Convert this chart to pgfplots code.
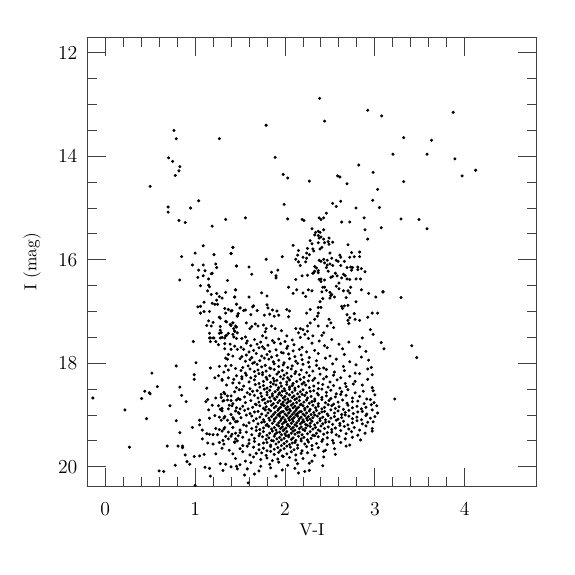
\documentclass[border=0pt]{standalone}
\usepackage{pgfplots}
\pgfplotsset{compat=1.18}
\begin{document}
\begin{tikzpicture}
\begin{axis}[
  scale only axis, width=272.7pt, height=272.5pt,
  xmin=-0.2, xmax=4.8, ymin=11.7, ymax=20.38, y dir=reverse,
  xtick={0,1,2,3,4}, minor x tick num=4,
  ytick={12,14,16,18,20}, minor y tick num=3,
  tick align=inside, xtick pos=both, ytick pos=both,
  xticklabel pos=lower, yticklabel pos=left,
  major tick length=11.5pt, minor tick length=5.7pt,
  axis line style={black!75, line width=0.6pt},
  every tick/.style={black!75, line width=0.6pt},
  tick label style={font=\fontsize{12}{14}\selectfont},
  xticklabel style={yshift=-6.5pt},
  yticklabel style={xshift=-2.4pt},
  label style={font=\fontsize{10.5}{12}\selectfont},
  xlabel={V-I}, ylabel={I (mag)},
  xlabel style={at={(axis description cs:0.5,-0.096)}, anchor=center},
  ylabel style={at={(axis description cs:-0.1228,0.5)}, anchor=center},
  clip=true,
]
\pgfplotsset{cmd/.style={only marks, mark=*, mark size=0.72pt, black, mark options={draw=black, fill=black}}}
% sparse upper stars
\addplot[cmd] coordinates {
(0.765,13.50)(0.79,13.66)(1.27,13.66)(0.705,14.03)(0.75,14.10)(0.83,14.20)(0.82,14.28)(0.78,14.37)(0.50,14.58)
(2.385,12.88)(2.92,13.11)(3.075,13.22)(2.44,13.32)(1.79,13.40)(1.89,14.02)(1.98,14.35)(2.03,14.42)(2.27,14.48)(2.585,14.38)(2.61,14.40)(2.69,14.53)(2.82,14.17)(2.98,14.31)(3.03,14.64)
(3.87,13.15)(3.32,13.64)(3.63,13.69)(3.20,13.96)(3.58,13.96)(3.89,14.05)(4.12,14.27)(3.97,14.38)(3.32,14.49)
(3.29,15.21)(3.49,15.22)(3.58,15.40)(3.09,16.62)(3.29,16.73)
(3.07,17.60)(3.10,17.72)(3.41,17.66)(3.465,17.89)(3.22,18.69)
};
% blue side, upper left
\addplot[cmd] coordinates {
(0.70,14.98)(0.70,15.08)(0.95,15.00)(1.04,14.86)(0.82,15.24)(0.89,15.28)(1.34,15.22)(1.19,15.35)
(1.09,15.73)(1.42,15.76)(1.00,15.87)(1.21,15.90)(1.40,15.88)(0.85,15.94)(0.97,16.10)(1.09,16.10)(1.23,16.08)(1.46,16.12)
(1.24,16.15)(1.04,16.20)(1.11,16.21)(1.19,16.26)(1.18,16.27)(1.09,16.31)(1.03,16.34)(1.15,16.37)(0.83,16.39)(1.36,16.40)
(1.06,16.50)(1.15,16.49)(1.16,16.52)(1.45,16.58)(1.14,16.60)(1.24,16.65)(1.18,16.67)(1.34,16.63)(1.27,16.71)(1.30,16.74)
(1.44,16.72)(1.24,16.78)(1.22,16.86)(1.19,16.84)(1.25,16.86)(1.10,16.82)(1.46,16.86)(1.03,16.91)(1.06,16.90)(1.33,16.94)
(1.37,16.96)(1.41,16.98)(1.50,16.93)(1.10,17.00)(1.16,17.00)(1.06,17.03)(1.34,17.03)(1.48,17.04)(1.27,17.11)(1.28,17.13)
(1.47,17.09)(1.34,17.19)(1.35,17.20)(1.15,17.18)(1.20,17.21)(1.42,17.22)(1.39,17.25)(1.40,17.27)(1.13,17.27)(1.18,17.28)
(1.28,17.29)(1.46,17.30)(1.44,17.38)(1.28,17.36)(1.16,17.42)(1.27,17.42)(1.35,17.46)(1.17,17.51)(1.21,17.51)(1.30,17.50)
(1.33,17.51)(1.43,17.49)
};
% giant branch and clump region
\addplot[cmd] coordinates {
(2.975,14.85)(2.53,14.91)(2.62,14.87)(2.57,14.97)(2.79,15.00)(3.05,14.99)(1.99,14.93)(2.46,15.10)(1.56,15.19)(2.03,15.21)
(2.19,15.22)(2.21,15.24)(2.38,15.19)(2.40,15.22)(2.43,15.19)(2.63,15.27)(2.72,15.27)(2.88,15.19)(3.07,15.38)(2.89,15.42)
(2.30,15.40)(2.34,15.47)(2.37,15.45)(2.39,15.47)(2.43,15.42)(2.33,15.52)(2.37,15.53)(2.92,15.60)(2.38,15.58)(2.40,15.56)
(2.43,15.60)(2.49,15.58)(2.28,15.63)(2.30,15.69)(2.37,15.67)(2.44,15.67)(2.48,15.65)(2.49,15.70)(2.53,15.66)(2.70,15.71)
(2.09,15.72)(1.42,15.76)(2.31,15.79)(2.32,15.83)(2.25,15.78)(2.39,15.79)(2.41,15.76)(2.15,15.82)(2.74,15.86)(2.83,15.85)
(2.50,15.87)(2.24,15.87)(1.40,15.88)(2.27,15.90)(2.14,15.91)(2.61,15.91)(1.97,15.94)(2.20,15.95)(2.72,15.95)(2.77,15.94)
(2.83,15.94)(2.62,15.95)(2.24,15.97)(2.52,15.97)(2.12,15.99)(1.79,15.99)(2.38,16.01)(2.40,16.03)(2.43,15.99)(2.47,16.01)
(2.57,16.01)(2.59,16.03)(2.66,16.03)(2.23,16.04)(2.15,16.04)(2.44,16.06)(2.50,16.08)(2.47,16.10)(2.53,16.11)(2.62,16.11)
(1.46,16.12)(1.60,16.14)(2.17,16.11)(2.33,16.13)(2.35,16.16)(2.46,16.15)(2.69,16.15)(2.73,16.14)(2.75,16.15)(2.81,16.14)
(1.92,16.20)(2.37,16.21)(2.74,16.20)(2.81,16.19)(2.85,16.17)(2.33,16.22)(2.48,16.22)(1.85,16.24)(2.32,16.25)(2.37,16.25)
(2.31,16.26)(2.56,16.26)(2.65,16.28)(1.63,16.28)(2.89,16.23)(2.19,16.31)(2.25,16.30)(2.67,16.31)(1.90,16.31)(1.90,16.35)
(2.58,16.31)(2.53,16.32)(2.12,16.38)(2.40,16.37)(2.51,16.34)(2.63,16.35)(2.69,16.37)(2.72,16.38)(2.79,16.37)(2.84,16.37)
(2.44,16.39)(2.38,16.38)(2.40,16.42)(2.60,16.45)(2.57,16.51)(2.04,16.53)(2.42,16.53)(2.44,16.53)(2.60,16.56)(2.73,16.53)
(2.85,16.58)(2.26,16.58)(2.30,16.60)(2.13,16.58)(2.46,16.59)(2.70,16.60)(2.65,16.60)(3.09,16.62)(2.41,16.62)(2.50,16.63)
(2.72,16.64)(2.09,16.65)(2.20,16.64)(2.93,16.65)(2.51,16.69)(2.52,16.67)(2.23,16.71)(2.55,16.72)(3.01,16.72)(2.50,16.74)
(2.68,16.73)(2.42,16.75)(2.39,16.81)(2.79,16.81)(2.70,16.88)(2.66,16.89)(2.63,16.90)(2.64,16.94)(2.37,16.92)(2.40,16.92)
(3.03,17.03)(2.97,17.03)(2.92,17.11)
(1.45,16.58)(1.44,16.72)(1.60,16.72)(1.74,16.64)(1.80,16.70)(1.46,16.86)(1.50,16.93)(1.54,16.98)(1.56,16.97)(1.64,16.91)
(1.65,16.89)(1.69,16.98)(1.80,16.87)(1.81,16.93)(1.86,16.97)(1.91,16.99)(2.02,16.96)(2.05,16.99)(1.40,16.99)(1.47,17.08)
(1.62,17.06)(1.77,17.07)(1.83,17.05)(1.88,17.09)(1.93,17.07)(2.04,17.10)(2.24,17.03)(2.28,16.96)(1.42,17.22)(1.45,17.28)
(1.43,17.33)(1.47,17.41)(1.57,17.22)(1.61,17.33)(1.63,17.29)(1.67,17.24)(1.70,17.28)(1.76,17.26)(1.78,17.39)(1.79,17.33)
(1.75,17.47)(1.85,17.28)(1.89,17.33)(1.96,17.37)(2.12,17.33)(2.17,17.33)(2.20,17.35)(2.25,17.28)(2.28,17.22)(2.33,17.15)
(2.36,17.09)(2.37,17.03)(1.56,17.49)(2.02,17.47)(2.15,17.41)(2.22,17.44)(2.25,17.38)(2.31,17.47)(2.37,17.28)(2.41,17.46)
(2.43,17.41)(2.47,17.28)(2.49,17.15)(2.51,17.22)(2.54,17.31)(2.69,17.06)(2.72,17.12)(2.70,17.17)(2.71,17.23)(2.77,17.04)
(2.78,17.15)(2.83,17.17)(2.86,17.51)(2.95,17.35)(2.98,17.44)
};
% lower left sparse and blue edge
\addplot[cmd] coordinates {
(-0.137,18.67)(0.22,18.90)(0.27,19.62)(0.405,18.68)(0.44,18.54)(0.49,18.57)(0.50,18.59)(0.52,18.19)(0.58,18.45)(0.46,19.07)
(0.60,20.08)(0.65,20.09)(0.72,18.82)(0.69,19.60)(0.78,19.97)(0.79,18.05)(0.83,18.46)(0.85,18.62)(0.90,18.74)(0.79,19.11)
(0.83,19.34)(0.81,19.60)(0.86,19.60)(0.86,19.63)(0.89,19.77)(0.91,19.90)(0.94,19.95)(0.99,19.80)(1.00,20.36)(0.98,17.58)
(1.01,17.99)(0.99,18.22)(0.99,18.31)(0.97,19.24)(1.05,19.10)(1.05,19.19)(1.08,19.29)(1.13,18.48)(1.12,18.74)(1.14,18.70)
(1.15,18.90)(1.16,19.06)(1.13,19.36)(1.16,19.37)(1.20,19.38)(1.25,19.38)(1.08,19.46)(1.14,19.54)(1.20,19.56)(1.10,19.76)
(1.05,19.79)(1.16,20.03)(1.17,20.18)(1.11,20.01)(1.23,19.75)(1.30,19.64)(1.28,19.94)(1.34,19.95)(1.31,20.07)(1.40,20.00)
(1.46,19.99)(1.47,20.04)
(1.16,17.51)(1.20,17.51)(1.17,17.58)(1.23,17.58)(1.28,17.51)(1.29,17.41)(1.34,17.47)(1.37,17.42)(1.42,17.44)(1.44,17.38)
(1.46,17.52)(1.26,17.64)(1.33,17.62)(1.39,17.63)(1.44,17.67)(1.40,17.73)(1.33,17.72)(1.37,17.83)(1.34,17.90)(1.36,17.92)
(1.42,17.86)(1.47,17.73)(1.27,18.06)(1.34,18.05)(1.40,18.04)(1.32,18.17)(1.37,18.13)(1.45,18.10)(1.17,18.09)(1.22,18.28)
(1.26,18.24)(1.30,18.31)(1.37,18.28)(1.43,18.31)(1.46,18.24)(1.49,18.38)(1.29,18.60)(1.32,18.56)(1.36,18.63)(1.36,18.71)
(1.32,18.72)(1.40,18.72)(1.46,18.71)(1.49,18.51)(1.23,18.67)(1.19,18.81)(1.26,18.82)(1.30,18.87)(1.37,18.88)(1.41,18.82)
(1.45,18.92)(1.50,18.88)(1.22,19.01)(1.27,19.04)(1.32,19.06)(1.36,19.10)(1.42,19.05)(1.45,19.13)(1.49,18.97)(1.23,19.26)
(1.27,19.28)(1.33,19.24)(1.37,19.33)(1.40,19.41)(1.45,19.35)(1.48,19.40)(1.47,19.50)(1.44,19.53)(1.27,19.53)(1.31,19.49)
(1.37,19.46)
};
% dense main body, upper part
\addplot[cmd] coordinates {
(1.52,17.52)(1.58,17.57)(1.66,17.54)(1.73,17.59)(1.79,17.51)(1.86,17.56)(1.93,17.53)(2.0,17.58)(2.08,17.55)(2.17,17.50)(2.26,17.52)(2.38,17.57)(2.52,17.54)(2.71,17.59)
(1.51,17.69)(1.57,17.61)(1.62,17.66)(1.69,17.63)(1.75,17.68)(1.81,17.65)(1.88,17.60)(1.95,17.62)(2.03,17.67)(2.1,17.64)(2.19,17.69)(2.3,17.61)(2.44,17.66)(2.6,17.63)(2.83,17.68)
(1.54,17.73)(1.6,17.78)(1.65,17.75)(1.71,17.70)(1.77,17.72)(1.83,17.77)(1.9,17.74)(1.96,17.79)(2.02,17.71)(2.09,17.76)(2.16,17.73)(2.24,17.78)(2.33,17.75)(2.47,17.70)(2.64,17.72)(2.9,17.77)
(1.52,17.87)(1.57,17.84)(1.63,17.89)(1.68,17.81)(1.74,17.86)(1.8,17.83)(1.85,17.88)(1.91,17.85)(1.98,17.80)(2.04,17.82)(2.11,17.87)(2.18,17.84)(2.27,17.89)(2.37,17.81)(2.5,17.86)(2.66,17.83)(2.85,17.88)
(1.5,17.91)(1.56,17.96)(1.61,17.93)(1.66,17.98)(1.72,17.95)(1.77,17.90)(1.82,17.92)(1.87,17.97)(1.93,17.94)(1.99,17.99)(2.05,17.91)(2.12,17.96)(2.19,17.93)(2.26,17.98)(2.35,17.95)(2.45,17.90)(2.57,17.92)(2.72,17.97)(2.93,17.94)
(1.53,18.08)(1.59,18.05)(1.64,18.00)(1.69,18.02)(1.74,18.07)(1.78,18.04)(1.83,18.09)(1.88,18.01)(1.93,18.06)(1.98,18.03)(2.03,18.08)(2.08,18.05)(2.14,18.00)(2.2,18.02)(2.27,18.07)(2.35,18.04)(2.43,18.09)(2.53,18.01)(2.65,18.06)(2.79,18.03)(2.96,18.08)
(1.51,18.14)(1.56,18.19)(1.61,18.11)(1.66,18.16)(1.7,18.13)(1.75,18.18)(1.79,18.15)(1.84,18.10)(1.88,18.12)(1.93,18.17)(1.97,18.14)(2.02,18.19)(2.07,18.11)(2.12,18.16)(2.18,18.13)(2.24,18.18)(2.31,18.15)(2.38,18.10)(2.46,18.12)(2.55,18.17)(2.66,18.14)(2.78,18.19)(2.92,18.11)
(1.52,18.26)(1.57,18.23)(1.62,18.28)(1.67,18.25)(1.71,18.20)(1.75,18.22)(1.79,18.27)(1.83,18.24)(1.87,18.29)(1.91,18.21)(1.95,18.26)(1.99,18.23)(2.03,18.28)(2.07,18.25)(2.11,18.20)(2.16,18.22)(2.21,18.27)(2.27,18.24)(2.33,18.29)(2.39,18.21)(2.46,18.26)(2.54,18.23)(2.62,18.28)(2.72,18.25)(2.83,18.20)(2.97,18.22)
};
% dense main body, core and lower part
\addplot[cmd] coordinates {
(1.3,18.33)(1.42,18.38)(1.52,18.30)(1.6,18.36)(1.66,18.32)(1.71,18.39)(1.76,18.35)(1.8,18.31)(1.84,18.37)(1.88,18.34)
(1.91,18.33)(1.95,18.38)(1.98,18.30)(2.02,18.36)(2.05,18.32)(2.09,18.39)(2.13,18.35)(2.17,18.31)(2.21,18.37)(2.26,18.34)
(2.31,18.33)(2.37,18.38)(2.43,18.30)(2.5,18.36)(2.58,18.32)(2.67,18.39)(2.78,18.35)(2.92,18.31)
(1.35,18.42)(1.46,18.47)(1.54,18.44)(1.61,18.49)(1.67,18.41)(1.72,18.46)(1.76,18.43)(1.8,18.48)(1.84,18.45)(1.87,18.40)
(1.9,18.42)(1.93,18.47)(1.96,18.44)(1.99,18.49)(2.02,18.41)(2.05,18.46)(2.08,18.43)(2.11,18.48)(2.15,18.45)(2.19,18.40)
(2.23,18.42)(2.27,18.47)(2.32,18.44)(2.37,18.49)(2.42,18.41)(2.48,18.46)(2.54,18.43)(2.61,18.48)(2.68,18.45)(2.76,18.40)
(2.86,18.42)(2.97,18.47)
(1.33,18.59)(1.44,18.55)(1.52,18.51)(1.58,18.57)(1.64,18.54)(1.69,18.53)(1.73,18.58)(1.77,18.50)(1.8,18.56)(1.83,18.52)
(1.86,18.59)(1.89,18.55)(1.92,18.51)(1.94,18.57)(1.97,18.54)(2.0,18.53)(2.02,18.58)(2.05,18.50)(2.08,18.56)(2.11,18.52)
(2.14,18.59)(2.17,18.55)(2.2,18.51)(2.24,18.57)(2.28,18.54)(2.32,18.53)(2.36,18.58)(2.41,18.50)(2.46,18.56)(2.51,18.52)
(2.57,18.59)(2.63,18.55)(2.7,18.51)(2.78,18.57)(2.87,18.54)(2.98,18.53)
(1.29,18.66)(1.4,18.63)(1.48,18.68)(1.55,18.65)(1.61,18.60)(1.66,18.62)(1.7,18.67)(1.74,18.64)(1.77,18.69)(1.8,18.61)
(1.83,18.66)(1.86,18.63)(1.88,18.68)(1.91,18.65)(1.93,18.60)(1.96,18.62)(1.98,18.67)(2.0,18.64)(2.03,18.69)(2.05,18.61)
(2.08,18.66)(2.1,18.63)(2.13,18.68)(2.16,18.65)(2.19,18.60)(2.22,18.62)(2.25,18.67)(2.29,18.64)(2.33,18.69)(2.37,18.61)
(2.41,18.66)(2.46,18.63)(2.51,18.68)(2.56,18.65)(2.62,18.60)(2.68,18.62)(2.75,18.67)(2.83,18.64)(2.91,18.69)(3.0,18.61)
(1.31,18.73)(1.42,18.78)(1.5,18.70)(1.56,18.76)(1.62,18.72)(1.67,18.79)(1.71,18.75)(1.75,18.71)(1.78,18.77)(1.81,18.74)
(1.84,18.73)(1.87,18.78)(1.89,18.70)(1.92,18.76)(1.94,18.72)(1.96,18.79)(1.98,18.75)(2.0,18.71)(2.02,18.77)(2.04,18.74)
(2.06,18.73)(2.09,18.78)(2.11,18.70)(2.13,18.76)(2.16,18.72)(2.18,18.79)(2.21,18.75)(2.24,18.71)(2.27,18.77)(2.3,18.74)
(2.33,18.73)(2.37,18.78)(2.41,18.70)(2.45,18.76)(2.49,18.72)(2.54,18.79)(2.59,18.75)(2.64,18.71)(2.69,18.77)(2.75,18.74)
(2.81,18.73)(2.88,18.78)(2.95,18.70)(2.99,18.76)
(1.28,18.89)(1.38,18.81)(1.46,18.86)(1.53,18.83)(1.59,18.88)(1.64,18.85)(1.68,18.80)(1.72,18.82)(1.76,18.87)(1.79,18.84)
(1.82,18.89)(1.85,18.81)(1.88,18.86)(1.9,18.83)(1.93,18.88)(1.95,18.85)(1.97,18.80)(1.99,18.82)(2.01,18.87)(2.03,18.84)
(2.05,18.89)(2.07,18.81)(2.09,18.86)(2.11,18.83)(2.13,18.88)(2.15,18.85)(2.17,18.80)(2.2,18.82)(2.22,18.87)(2.25,18.84)
(2.28,18.89)(2.31,18.81)(2.34,18.86)(2.37,18.83)(2.41,18.88)(2.44,18.85)(2.48,18.80)(2.52,18.82)(2.56,18.87)(2.6,18.84)
(2.65,18.89)(2.7,18.81)(2.75,18.86)(2.8,18.83)(2.85,18.88)(2.9,18.85)(2.96,18.80)(3.02,18.82)
(1.3,18.92)(1.4,18.99)(1.48,18.95)(1.55,18.91)(1.61,18.97)(1.66,18.94)(1.7,18.93)(1.74,18.98)(1.78,18.90)(1.81,18.96)
(1.84,18.92)(1.87,18.99)(1.89,18.95)(1.92,18.91)(1.94,18.97)(1.96,18.94)(1.98,18.93)(2.0,18.98)(2.02,18.90)(2.04,18.96)
(2.06,18.92)(2.08,18.99)(2.1,18.95)(2.12,18.91)(2.14,18.97)(2.16,18.94)(2.18,18.93)(2.2,18.98)(2.22,18.90)(2.24,18.96)
(2.27,18.92)(2.29,18.99)(2.32,18.95)(2.35,18.91)(2.38,18.97)(2.41,18.94)(2.44,18.93)(2.47,18.98)(2.51,18.90)(2.55,18.96)
(2.59,18.92)(2.63,18.99)(2.67,18.95)(2.71,18.91)(2.76,18.97)(2.81,18.94)(2.86,18.93)(2.91,18.98)(2.97,18.90)(3.03,18.96)
(1.33,19.03)(1.43,19.08)(1.51,19.05)(1.57,19.00)(1.63,19.02)(1.68,19.07)(1.72,19.04)(1.76,19.09)(1.79,19.01)(1.82,19.06)
(1.85,19.03)(1.88,19.08)(1.9,19.05)(1.92,19.00)(1.94,19.02)(1.96,19.07)(1.98,19.04)(2.0,19.09)(2.02,19.01)(2.04,19.06)
(2.06,19.03)(2.08,19.08)(2.1,19.05)(2.12,19.00)(2.14,19.02)(2.16,19.07)(2.18,19.04)(2.2,19.09)(2.22,19.01)(2.24,19.06)
(2.26,19.03)(2.28,19.08)(2.31,19.05)(2.33,19.00)(2.36,19.02)(2.39,19.07)(2.42,19.04)(2.45,19.09)(2.48,19.01)(2.51,19.06)
(2.55,19.03)(2.59,19.08)(2.63,19.05)(2.67,19.00)(2.71,19.02)(2.75,19.07)(2.8,19.04)(2.85,19.09)(2.9,19.01)(2.95,19.06)
(3.0,19.03)
(1.29,19.10)(1.39,19.16)(1.47,19.12)(1.54,19.19)(1.6,19.15)(1.65,19.11)(1.7,19.17)(1.74,19.14)(1.77,19.13)(1.8,19.18)
(1.83,19.10)(1.86,19.16)(1.88,19.12)(1.91,19.19)(1.93,19.15)(1.95,19.11)(1.97,19.17)(1.99,19.14)(2.01,19.13)(2.03,19.18)
(2.05,19.10)(2.07,19.16)(2.09,19.12)(2.11,19.19)(2.13,19.15)(2.15,19.11)(2.17,19.17)(2.19,19.14)(2.21,19.13)(2.23,19.18)
(2.25,19.10)(2.28,19.16)(2.3,19.12)(2.33,19.19)(2.36,19.15)(2.39,19.11)(2.42,19.17)(2.45,19.14)(2.49,19.13)(2.53,19.18)
(2.57,19.10)(2.61,19.16)(2.65,19.12)(2.7,19.19)(2.75,19.15)(2.8,19.11)(2.86,19.17)(2.92,19.14)(2.98,19.13)
(1.32,19.27)(1.42,19.24)(1.5,19.29)(1.57,19.21)(1.63,19.26)(1.68,19.23)(1.72,19.28)(1.76,19.25)(1.79,19.20)(1.82,19.22)
(1.85,19.27)(1.88,19.24)(1.9,19.29)(1.93,19.21)(1.95,19.26)(1.97,19.23)(1.99,19.28)(2.01,19.25)(2.03,19.20)(2.05,19.22)
(2.07,19.27)(2.09,19.24)(2.11,19.29)(2.13,19.21)(2.16,19.26)(2.18,19.23)(2.2,19.28)(2.23,19.25)(2.25,19.20)(2.28,19.22)
(2.31,19.27)(2.34,19.24)(2.37,19.29)(2.4,19.21)(2.44,19.26)(2.48,19.23)(2.52,19.28)(2.56,19.25)(2.61,19.20)(2.66,19.22)
(2.71,19.27)(2.77,19.24)(2.83,19.29)(2.9,19.21)(2.97,19.26)
(1.3,19.31)(1.41,19.37)(1.5,19.34)(1.57,19.33)(1.63,19.38)(1.68,19.30)(1.72,19.36)(1.76,19.32)(1.8,19.39)(1.83,19.35)
(1.86,19.31)(1.89,19.37)(1.91,19.34)(1.94,19.33)(1.96,19.38)(1.98,19.30)(2.0,19.36)(2.02,19.32)(2.04,19.39)(2.07,19.35)
(2.09,19.31)(2.11,19.37)(2.14,19.34)(2.16,19.33)(2.19,19.38)(2.22,19.30)(2.25,19.36)(2.28,19.32)(2.31,19.39)(2.35,19.35)
(2.39,19.31)(2.43,19.37)(2.47,19.34)(2.52,19.33)(2.57,19.38)(2.62,19.30)(2.68,19.36)(2.74,19.32)(2.81,19.39)(2.89,19.35)
(2.97,19.31)
(1.34,19.41)(1.45,19.46)(1.53,19.43)(1.6,19.48)(1.66,19.45)(1.71,19.40)(1.75,19.42)(1.79,19.47)(1.82,19.44)(1.85,19.49)
(1.88,19.41)(1.91,19.46)(1.94,19.43)(1.96,19.48)(1.99,19.45)(2.01,19.40)(2.04,19.42)(2.07,19.47)(2.09,19.44)(2.12,19.49)
(2.15,19.41)(2.18,19.46)(2.21,19.43)(2.25,19.48)(2.29,19.45)(2.33,19.40)(2.37,19.42)(2.42,19.47)(2.47,19.44)(2.53,19.49)
(2.6,19.41)(2.67,19.46)(2.75,19.43)(2.84,19.48)
(1.32,19.56)(1.44,19.52)(1.53,19.59)(1.6,19.55)(1.66,19.51)(1.71,19.57)(1.76,19.54)(1.8,19.53)(1.84,19.58)(1.87,19.50)
(1.9,19.56)(1.93,19.52)(1.96,19.59)(1.99,19.55)(2.02,19.51)(2.05,19.57)(2.08,19.54)(2.11,19.53)(2.14,19.58)(2.18,19.50)
(2.22,19.56)(2.26,19.52)(2.3,19.59)(2.35,19.55)(2.41,19.51)(2.47,19.57)(2.54,19.54)(2.62,19.53)(2.72,19.58)
(1.38,19.68)(1.5,19.65)(1.58,19.60)(1.65,19.62)(1.71,19.67)(1.76,19.64)(1.8,19.69)(1.84,19.61)(1.88,19.66)(1.92,19.63)
(1.95,19.68)(1.99,19.65)(2.02,19.60)(2.06,19.62)(2.1,19.67)(2.14,19.64)(2.19,19.69)(2.24,19.61)(2.3,19.66)(2.37,19.63)
(2.45,19.68)(2.55,19.65)(2.68,19.60)
(1.42,19.75)(1.53,19.71)(1.61,19.77)(1.68,19.74)(1.74,19.73)(1.79,19.78)(1.84,19.70)(1.88,19.76)(1.93,19.72)(1.97,19.79)
(2.02,19.75)(2.07,19.71)(2.12,19.77)(2.18,19.74)(2.25,19.73)(2.33,19.78)(2.43,19.70)(2.56,19.76)
(1.45,19.84)(1.56,19.89)(1.65,19.81)(1.73,19.86)(1.8,19.83)(1.86,19.88)(1.92,19.85)(1.98,19.80)(2.05,19.82)(2.12,19.87)(2.2,19.84)(2.3,19.89)(2.43,19.81)
(1.5,19.96)(1.62,19.92)(1.73,19.99)(1.83,19.95)(1.93,19.91)(2.03,19.97)(2.14,19.94)(2.27,19.93)(2.42,19.98)
(1.58,20.04)(1.71,20.08)(1.84,20.02)(1.97,20.06)(2.11,20.03)(2.27,20.07)
(1.66,20.14)(1.9,20.18)(2.15,20.12)(1.59,20.31)(2.22,20.09)(1.55,20.16)
};
\end{axis}
\pgfresetboundingbox
\path ([shift={(-52.9pt,-53.5pt)}]current axis.south west) rectangle ([shift={(23.2pt,22.6pt)}]current axis.north east);
\end{tikzpicture}
\end{document}
